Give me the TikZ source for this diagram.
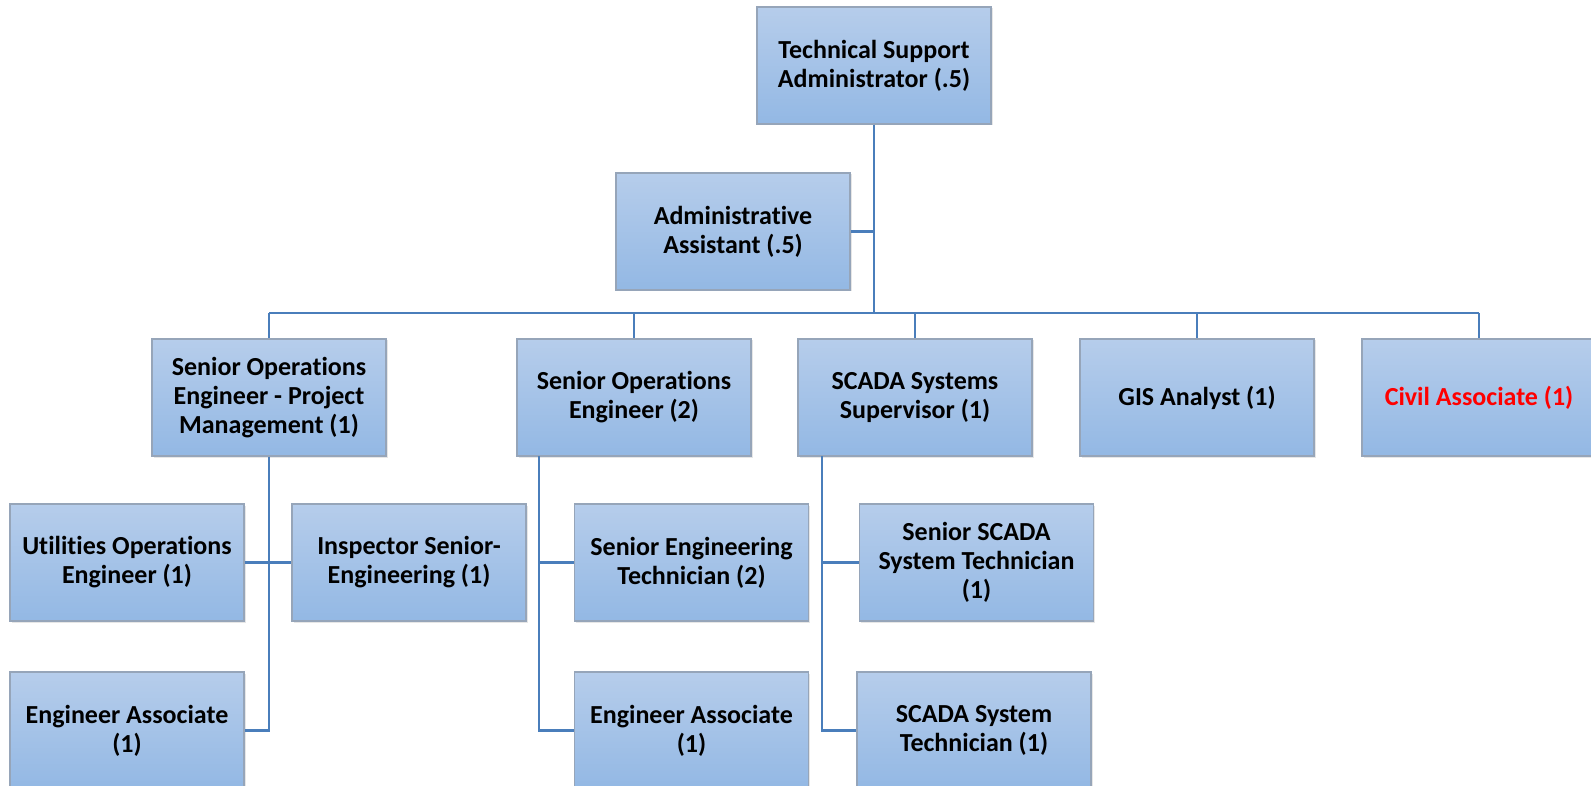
\documentclass[tikz,border=0pt]{standalone}
\usepackage{fontspec}
\setmainfont{Carlito}[RawFeature=-liga]
\usetikzlibrary{shadows}
\definecolor{boxtop}{RGB}{182,205,235}
\definecolor{boxbot}{RGB}{147,184,228}
\definecolor{boxline}{RGB}{150,165,185}
\definecolor{wire}{RGB}{74,126,187}
\tikzset{
  post/.style={draw=boxline, line width=1.2pt, top color=boxtop, bottom color=boxbot,
    minimum width=234pt, minimum height=117pt, align=center, inner sep=2pt,
    font=\fontsize{26}{29}\selectfont\bfseries,
    drop shadow={opacity=0.2, shadow xshift=1.5pt, shadow yshift=-1.5pt}},
  wire/.style={draw=wire, line width=2.8pt}
}
\begin{document}
\begin{tikzpicture}[x=1pt,y=-1pt]
\useasboundingbox (0,0) rectangle (1591,786);
\foreach \k/\x/\y/\t in {top/874/65.5/{Technical Support\\Administrator (.5)},
    admin/733/231.5/{Administrative\\Assistant (.5)},
    pm/269/397.5/{Senior Operations\\Engineer - Project\\Management (1)},
    soe/634/397.5/{Senior Operations\\Engineer (2)},
    sup/915/397.5/{SCADA Systems\\Supervisor (1)},
    gis/1197/397.5/{GIS Analyst (1)},
    uoe/127/562.5/{Utilities Operations\\Engineer (1)},
    ins/409/562.5/{Inspector Senior-\\Engineering (1)},
    pmea/127/730.5/{Engineer Associate\\(1)},
    set/691.5/562.5/{Senior Engineering\\Technician (2)},
    soeea/691.5/730.5/{Engineer Associate\\(1)},
    sst/976.5/562.5/{Senior SCADA\\System Technician\\(1)},
    st/974/730.5/{SCADA System\\Technician (1)}}
    \draw (\x,\y) node[post] (\k) {\t};
\node[post, text=red] (civil) at (1479,397.5) {Civil Associate (1)};
% trunk and bus
\coordinate (bus) at (874,313);
\coordinate (soeb) at (539,456);
\coordinate (supb) at (822,456);
\draw[wire] (top) -- (bus);
\draw[wire] (admin) -- (admin -| bus);
\draw[wire] (bus -| pm) -- (bus -| civil);
\foreach \c in {pm, soe, sup, gis, civil}
    \draw[wire] (bus -| \c) -- (\c);
% branches
\draw[wire] (pm) |- (pmea);
\draw[wire] (uoe) -- (ins);
\draw[wire] (soeb) |- (soeea);
\draw[wire] (set) -- (set -| soeb);
\draw[wire] (supb) |- (st);
\draw[wire] (sst) -- (sst -| supb);
\end{tikzpicture}
\end{document}
